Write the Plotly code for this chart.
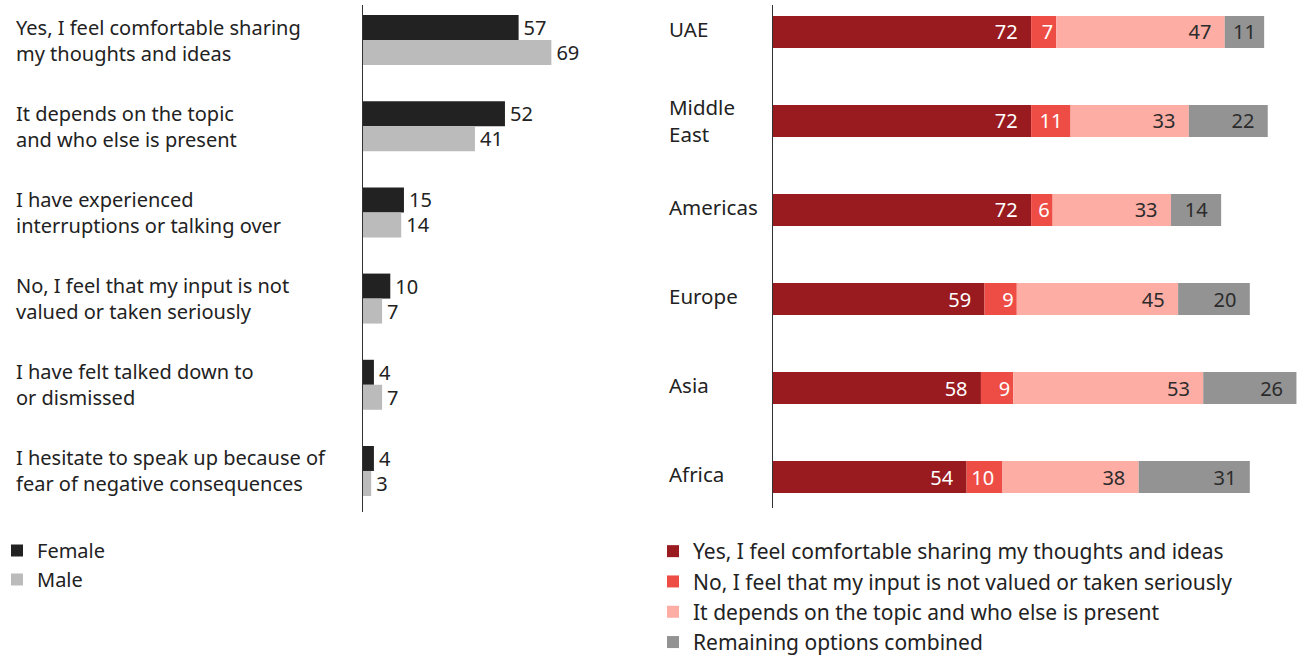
import plotly.graph_objects as go

# --- Left panel: responses by gender ---
statements = [
    "Yes, I feel comfortable sharing<br>my thoughts and ideas",
    "It depends on the topic<br>and who else is present",
    "I have experienced<br>interruptions or talking over",
    "No, I feel that my input is not<br>valued or taken seriously",
    "I have felt talked down to<br>or dismissed",
    "I hesitate to speak up because of<br>fear of negative consequences",
]
female = [57, 52, 15, 10, 4, 4]
male = [69, 41, 14, 7, 7, 3]

# --- Right panel: responses by region ---
regions = ["UAE", "Middle<br>East", "Americas", "Europe", "Asia", "Africa"]
yes_comfortable = [72, 72, 72, 59, 58, 54]
not_valued = [7, 11, 6, 9, 9, 10]
depends = [47, 33, 33, 45, 53, 38]
remaining = [11, 22, 14, 20, 26, 31]

region_series = [
    ("Yes, I feel comfortable sharing my thoughts and ideas", yes_comfortable, "#9a1b1f", "white"),
    ("No, I feel that my input is not valued or taken seriously", not_valued, "#ee4d45", "white"),
    ("It depends on the topic and who else is present", depends, "#feada5", "#2b2b2b"),
    ("Remaining options combined", remaining, "#939393", "#2b2b2b"),
]

FONT = "Noto Sans"
W, H = 1304, 657
TXT = "#222222"

fig = go.Figure()

for name, vals, color in [("Female", female, "#222222"), ("Male", male, "#bbbbbb")]:
    fig.add_trace(go.Bar(
        y=list(range(len(statements))), x=vals, orientation="h",
        name=name, marker_color=color, marker_line_width=0,
        text=[f"\u200a{v}" for v in vals], textposition="outside", textangle=0,
        textfont=dict(family=FONT, size=20, color=TXT),
        constraintext="none", cliponaxis=False,
        xaxis="x", yaxis="y", legend="legend",
    ))


def seg_label(v):
    # wider segments keep a little breathing room after the number
    if v >= 12:
        return f"{v}\u00a0\u00a0"
    if v >= 10:
        return f"{v}\u00a0"
    return str(v)


base = [0] * len(regions)
for name, vals, color, tcolor in region_series:
    fig.add_trace(go.Bar(
        y=list(range(len(regions))), x=vals, base=list(base), orientation="h",
        name=name, marker_color=color, marker_line_width=0,
        width=0.36, offsetgroup="region",
        text=[seg_label(v) for v in vals], textposition="inside", textangle=0,
        insidetextanchor="end", constraintext="none",
        textfont=dict(family=FONT, size=20, color=tcolor),
        xaxis="x2", yaxis="y2", legend="legend2",
    ))
    base = [b + v for b, v in zip(base, vals)]

annotations = []
for i, s in enumerate(statements):
    annotations.append(dict(
        x=14 / W, xref="paper", xanchor="left", y=i, yref="y", yanchor="middle",
        text=s, align="left", showarrow=False,
        font=dict(family=FONT, size=20, color=TXT),
    ))
for i, r in enumerate(regions):
    # single-line region names sit slightly above the bar centre
    annotations.append(dict(
        x=667 / W, xref="paper", xanchor="left", y=i, yref="y2", yanchor="middle",
        text=r, align="left", showarrow=False, yshift=0 if "<br>" in r else 3,
        font=dict(family=FONT, size=20.5, color=TXT),
    ))

fig.update_layout(
    width=W, height=H,
    margin=dict(l=0, r=0, t=0, b=0, autoexpand=False),
    paper_bgcolor="white", plot_bgcolor="white",
    barmode="group", bargap=0.42, bargroupgap=0,
    font=dict(family=FONT, size=20, color=TXT),
    xaxis=dict(domain=[363 / W, 636 / W], range=[0, 100], visible=False, fixedrange=True),
    yaxis=dict(domain=[1 - 512 / H, 1 - 5 / H], range=[5.476, -0.406],
               showticklabels=False, showgrid=False, zeroline=False, ticks="",
               showline=True, linecolor="#333333", linewidth=1, anchor="x"),
    xaxis2=dict(domain=[773 / W, 1303.6 / W], range=[0, 148], visible=False,
                anchor="y2", fixedrange=True),
    yaxis2=dict(domain=[1 - 508 / H, 1 - 5 / H], range=[5.348, -0.303],
                showticklabels=False, showgrid=False, zeroline=False, ticks="",
                showline=True, linecolor="#333333", linewidth=1, anchor="x2"),
    legend=dict(x=-3 / W, xanchor="left", y=1 - 531 / H, yanchor="top",
                font=dict(family=FONT, size=20, color=TXT),
                bgcolor="rgba(0,0,0,0)", traceorder="normal"),
    legend2=dict(x=653 / W, xanchor="left", y=1 - 531 / H, yanchor="top",
                 font=dict(family=FONT, size=21, color=TXT),
                 bgcolor="rgba(0,0,0,0)", traceorder="normal"),
    annotations=annotations,
    showlegend=True,
)

fig.write_html("out.html")
